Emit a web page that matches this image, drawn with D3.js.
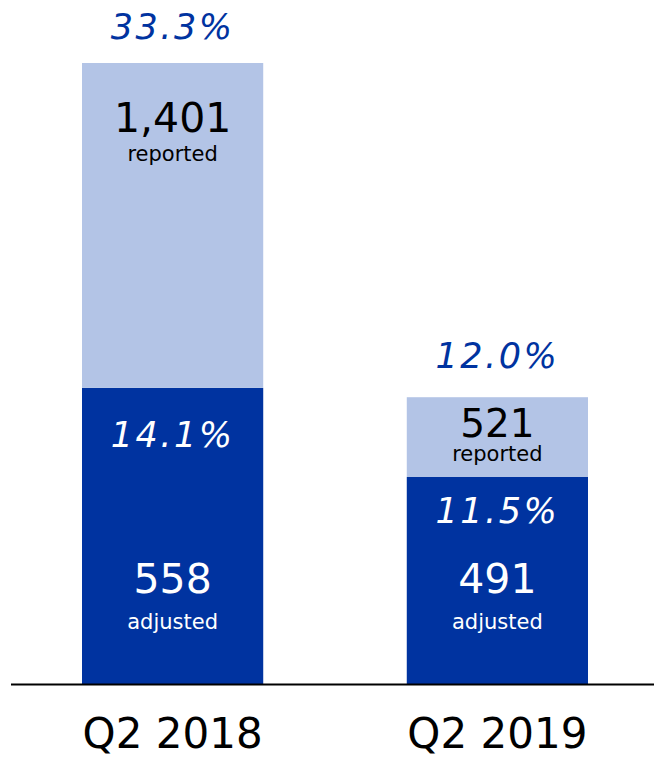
<!DOCTYPE html>
<html>
<head>
<meta charset="utf-8">
<script src="https://cdn.jsdelivr.net/npm/d3@7"></script>
<style>
  body { margin: 0; background: #fff; }
  svg { display: block; font-family: "DejaVu Sans", Verdana, sans-serif; }
</style>
</head>
<body>
<div id="chart"></div>
<script>
// categories and the values printed on the bars
var categories = ["Q2 2018", "Q2 2019"];
var adjusted = [558, 491];
var reported = [1401, 521];
var adjustedMargin = ["14.1%", "11.5%"];
var reportedMargin = ["33.3%", "12.0%"];

// bar heights as drawn in the source (not to scale with the labels),
// read off the picture in units where the tallest bar = 1,401
var drawnAdjusted = [668, 467];
var drawnTotal = [1401, 647];

var width = 654, height = 758;
var dark = "#0033a0", light = "#b3c4e6";

var svg = d3.select("#chart")
  .append("svg")
  .attr("width", width)
  .attr("height", height);

var x = d3.scaleBand()
  .domain(categories)
  .range([82, 588])
  .paddingInner(0.442)
  .paddingOuter(0);

var y = d3.scaleLinear().domain([0, 1401]).range([684, 63]);

var fmt = d3.format(",");

var bars = svg.selectAll(".bar")
  .data(categories)
  .enter()
  .append("g")
  .attr("class", "bar");

// adjusted (bottom) segment
bars.append("rect")
  .attr("x", function (d) { return x(d); })
  .attr("width", x.bandwidth())
  .attr("y", function (d, i) { return y(drawnAdjusted[i]); })
  .attr("height", function (d, i) { return y(0) - y(drawnAdjusted[i]); })
  .attr("fill", dark);

// reported (top) segment
bars.append("rect")
  .attr("x", function (d) { return x(d); })
  .attr("width", x.bandwidth())
  .attr("y", function (d, i) { return y(drawnTotal[i]); })
  .attr("height", function (d, i) { return y(drawnAdjusted[i]) - y(drawnTotal[i]); })
  .attr("fill", light);

function cx(d) { return x(d) + x.bandwidth() / 2; }

// label offsets per bar (the source spaces them by hand)
var topPctGap = [24, 29];
var repNumOff = [69, 40];
var repTxtOff = [98, 64];
var adjPctOff = [59, 46];

// reported margin above the bar
bars.append("text")
  .attr("x", cx)
  .attr("y", function (d, i) { return y(drawnTotal[i]) - topPctGap[i]; })
  .attr("text-anchor", "middle")
  .attr("fill", dark)
  .style("font-size", "35px")
  .style("font-style", "italic")
  .style("letter-spacing", "2.5px")
  .text(function (d, i) { return reportedMargin[i]; });

// reported value
bars.append("text")
  .attr("x", cx)
  .attr("y", function (d, i) { return y(drawnTotal[i]) + repNumOff[i]; })
  .attr("text-anchor", "middle")
  .attr("fill", "#000")
  .style("font-size", function (d, i) { return i === 0 ? "41px" : "39px"; })
  .text(function (d, i) { return fmt(reported[i]); });

bars.append("text")
  .attr("x", cx)
  .attr("y", function (d, i) { return y(drawnTotal[i]) + repTxtOff[i]; })
  .attr("text-anchor", "middle")
  .attr("fill", "#000")
  .style("font-size", "21px")
  .text("reported");

// adjusted margin inside the dark segment
bars.append("text")
  .attr("x", cx)
  .attr("y", function (d, i) { return y(drawnAdjusted[i]) + adjPctOff[i]; })
  .attr("text-anchor", "middle")
  .attr("fill", "#fff")
  .style("font-size", "35px")
  .style("font-style", "italic")
  .style("letter-spacing", "2.5px")
  .text(function (d, i) { return adjustedMargin[i]; });

// adjusted value
bars.append("text")
  .attr("x", cx)
  .attr("y", y(0) - 91)
  .attr("text-anchor", "middle")
  .attr("fill", "#fff")
  .style("font-size", "41px")
  .text(function (d, i) { return fmt(adjusted[i]); });

bars.append("text")
  .attr("x", cx)
  .attr("y", y(0) - 55)
  .attr("text-anchor", "middle")
  .attr("fill", "#fff")
  .style("font-size", "21px")
  .text("adjusted");

// baseline
svg.append("line")
  .attr("x1", 11)
  .attr("x2", width)
  .attr("y1", y(0) + 0.5)
  .attr("y2", y(0) + 0.5)
  .attr("stroke", "#000")
  .attr("stroke-width", 2);

// category axis
var xAxis = svg.append("g")
  .attr("transform", "translate(0," + y(0) + ")")
  .call(d3.axisBottom(x).tickSize(0));
xAxis.select(".domain").remove();
xAxis.selectAll("text")
  .attr("y", 64)
  .attr("dy", null)
  .attr("fill", "#000")
  .style("font-family", "DejaVu Sans, Verdana, sans-serif")
  .style("font-size", "42px");
</script>
</body>
</html>
